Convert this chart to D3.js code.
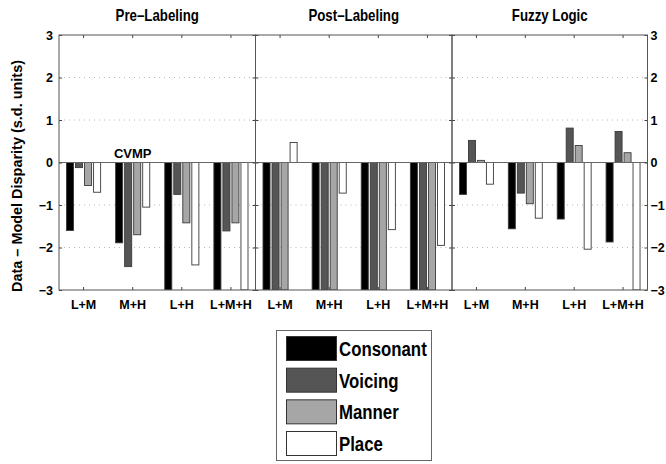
<!DOCTYPE html>
<html><head><meta charset="utf-8">
<script src="https://cdn.jsdelivr.net/npm/d3@7"></script>
<style>
body{margin:0;background:#fff;}
svg text{font-family:"Liberation Sans",Arial,Helvetica,sans-serif;font-weight:bold;fill:#000;}
</style>
</head><body>
<svg id="c" width="666" height="464"></svg>
<script>
// ---- data ----
const panels = ["Pre\u2013Labeling", "Post\u2013Labeling", "Fuzzy Logic"];
const categories = ["L+M", "M+H", "L+H", "L+M+H"];
const series = ["Consonant", "Voicing", "Manner", "Place"];
const yTicks = [-3, -2, -1, 0, 1, 2, 3];

const preConsonant = [-1.60, -1.89, -3.0, -3.0];
const preVoicing   = [-0.12, -2.45, -0.75, -1.61];
const preManner    = [-0.54, -1.70, -1.42, -1.42];
const prePlace     = [-0.70, -1.05, -2.41, -3.0];

const postConsonant = [-3.0, -3.0, -3.0, -3.0];
const postVoicing   = [-3.0, -3.0, -3.0, -3.0];
const postManner    = [-3.0, -3.0, -3.0, -3.0];
const postPlace     = [0.47, -0.72, -1.58, -1.95];

const fuzzyConsonant = [-0.75, -1.56, -1.33, -1.87];
const fuzzyVoicing   = [0.52, -0.72, 0.81, 0.73];
const fuzzyManner    = [0.05, -0.97, 0.40, 0.23];
const fuzzyPlace     = [-0.51, -1.31, -2.04, -3.0];

const panelValues = [
  [preConsonant, preVoicing, preManner, prePlace],
  [postConsonant, postVoicing, postManner, postPlace],
  [fuzzyConsonant, fuzzyVoicing, fuzzyManner, fuzzyPlace]
];
const annotation = "CVMP";

// ---- styles ----
const colors = {Consonant: "#000000", Voicing: "#555555", Manner: "#a6a6a6", Place: "#ffffff"};
const svg = d3.select("#c");
const plotTop = 35, plotBottom = 290;
const edges = [59, 255.5, 452, 647.5];
const y = d3.scaleLinear().domain([-3, 3]).range([plotBottom, plotTop]);
const color = d3.scaleOrdinal().domain(series).range(series.map(s => colors[s]));

function squeeze(sel, f) {
  sel.each(function () {
    const w = this.getComputedTextLength();
    d3.select(this).attr("textLength", w * f).attr("lengthAdjust", "spacingAndGlyphs");
  });
}

panels.forEach((name, pi) => {
  const x0 = edges[pi], x1 = edges[pi + 1];
  const x = d3.scaleBand().domain(categories).range([x0, x1]);
  const bw = x.bandwidth();
  const xs = d3.scaleBand().domain(series)
    .range([bw * 0.1325, bw * 0.8675]).paddingInner(0.22).paddingOuter(0.11);
  const g = svg.append("g");
  const clipId = "clip" + pi;
  svg.append("clipPath").attr("id", clipId).append("rect")
    .attr("x", x0).attr("y", plotTop).attr("width", x1 - x0).attr("height", plotBottom - plotTop);

  // gridlines
  g.selectAll("line.grid").data(yTicks.filter(t => t !== 0 && Math.abs(t) !== 3)).join("line")
    .attr("x1", x0).attr("x2", x1).attr("y1", d => y(d)).attr("y2", d => y(d))
    .attr("stroke", "#b8b8b8").attr("stroke-width", 1).attr("stroke-dasharray", "1,4");

  // bars
  const bars = g.append("g").attr("clip-path", `url(#${clipId})`);
  categories.forEach((c, ci) => {
    series.forEach((s, si) => {
      const v = panelValues[pi][si][ci];
      bars.append("rect")
        .attr("x", x(c) + xs(s)).attr("width", xs.bandwidth())
        .attr("y", y(Math.max(0, v))).attr("height", Math.abs(y(v) - y(0)))
        .attr("fill", color(s)).attr("stroke", "#3a3a3a").attr("stroke-width", 0.9);
    });
  });
  // baseline
  g.append("line").attr("x1", x0).attr("x2", x1).attr("y1", y(0)).attr("y2", y(0))
    .attr("stroke", "#666").attr("stroke-width", 1);

  // axes with inward ticks
  g.append("g").attr("transform", `translate(${x0},0)`)
    .call(d3.axisLeft(y).tickValues(yTicks).tickSizeInner(-3).tickSizeOuter(0).tickPadding(6)
      .tickFormat(pi === 0 ? d3.format("d") : () => ""))
    .call(a => a.select(".domain").remove());
  g.append("g").attr("transform", `translate(${x1},0)`)
    .call(d3.axisRight(y).tickValues(yTicks).tickSizeInner(-3).tickSizeOuter(0).tickPadding(3)
      .tickFormat(pi === panels.length - 1 ? d3.format("d") : () => ""))
    .call(a => a.select(".domain").remove());
  g.append("g").attr("transform", `translate(0,${plotBottom})`)
    .call(d3.axisBottom(x).tickSizeInner(-3).tickSizeOuter(0).tickPadding(10))
    .call(a => a.select(".domain").remove());
  g.append("g").attr("transform", `translate(0,${plotTop})`)
    .call(d3.axisTop(x).tickSizeInner(-3).tickSizeOuter(0).tickFormat(() => ""))
    .call(a => a.select(".domain").remove());
  g.selectAll(".tick line").attr("stroke", "#444");
  g.selectAll(".tick text").attr("font-size", 12.5).attr("font-family", "Liberation Sans, Arial, sans-serif").attr("font-weight", "bold").attr("fill", "#000");

  // frame
  g.append("rect").attr("x", x0).attr("y", plotTop).attr("width", x1 - x0).attr("height", plotBottom - plotTop)
    .attr("fill", "none").attr("stroke", "#555").attr("stroke-width", 1);

  // title
  const t = svg.append("text").attr("x", (x0 + x1) / 2).attr("y", 21).attr("text-anchor", "middle")
    .attr("font-size", 17).text(name);
  squeeze(t, 0.78);

  if (pi === 0) {
    svg.append("text").attr("x", x(categories[1]) + bw / 2).attr("y", 158)
      .attr("text-anchor", "middle").attr("font-size", 13).text(annotation);
  }
});

// y-axis label
svg.append("text")
  .attr("transform", `translate(22,176) rotate(-90)`)
  .attr("text-anchor", "middle").attr("font-size", 15)
  .attr("textLength", 232).attr("lengthAdjust", "spacingAndGlyphs")
  .text("Data  \u2013 Model Disparity (s.d. units)");

// legend
const lg = svg.append("g");
lg.append("rect").attr("x", 276.5).attr("y", 330.5).attr("width", 155).attr("height", 130)
  .attr("fill", "#fff").attr("stroke", "#666").attr("stroke-width", 1);
const ly = d3.scalePoint().domain(series).range([336, 431]);
series.forEach(s => {
  lg.append("rect").attr("x", 286.5).attr("y", ly(s) + 0.5).attr("width", 50).attr("height", 24)
    .attr("fill", color(s)).attr("stroke", "#333").attr("stroke-width", 1);
  const t = lg.append("text").attr("x", 339).attr("y", ly(s) + 20).attr("font-size", 20).text(s);
  squeeze(t, 0.84);
});
</script>
</body></html>
